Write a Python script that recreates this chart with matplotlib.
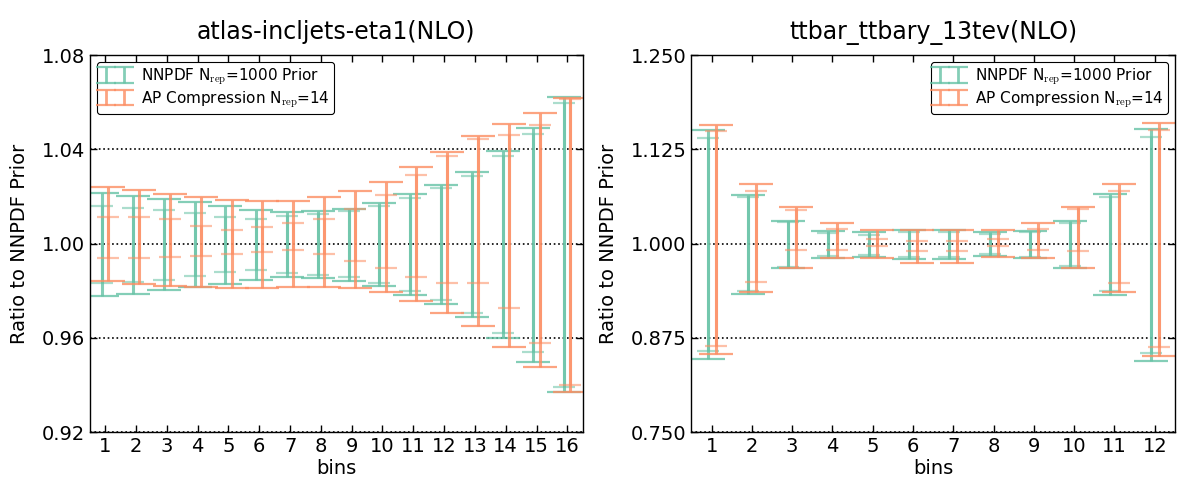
import numpy as np
import matplotlib
matplotlib.use("Agg")
import matplotlib.pyplot as plt

plt.rcParams['font.family'] = ['DejaVu Sans']
plt.rcParams['mathtext.fontset'] = 'cm'
plt.rcParams['mathtext.default'] = 'regular'

GREEN = '#66c2a5'
ORANGE = '#fc8d62'

# ---------------- data: left panel (atlas-incljets-eta1) ----------------
left_bins = list(range(1, 17))
left_prior_outer_hi = [1.0215, 1.0204, 1.0190, 1.0175, 1.0160, 1.0143, 1.0136, 1.0137,
                       1.0149, 1.0171, 1.0209, 1.0250, 1.0303, 1.0392, 1.0492, 1.0621]
left_prior_outer_lo = [0.9778, 0.9788, 0.9803, 0.9816, 0.9831, 0.9848, 0.9859, 0.9854,
                       0.9842, 0.9822, 0.9784, 0.9742, 0.9689, 0.9600, 0.9499, 0.9370]
left_prior_inner_hi = [1.0158, 1.0153, 1.0143, 1.0129, 1.0115, 1.0105, 1.0116, 1.0126,
                       1.0137, 1.0161, 1.0194, 1.0235, 1.0287, 1.0374, 1.0464, 1.0598]
left_prior_inner_lo = [0.9833, 0.9836, 0.9848, 0.9864, 0.9878, 0.9888, 0.9876, 0.9867,
                       0.9857, 0.9833, 0.9799, 0.9761, 0.9704, 0.9619, 0.9540, 0.9393]
left_comp_outer_hi = [1.0241, 1.0226, 1.0209, 1.0198, 1.0185, 1.0180, 1.0183, 1.0198,
                      1.0224, 1.0262, 1.0327, 1.0389, 1.0455, 1.0508, 1.0555, 1.0620]
left_comp_outer_lo = [0.9840, 0.9829, 0.9820, 0.9815, 0.9812, 0.9812, 0.9815, 0.9817,
                      0.9812, 0.9795, 0.9757, 0.9708, 0.9651, 0.9560, 0.9478, 0.9370]
left_comp_inner_hi = [1.0113, 1.0113, 1.0105, 1.0076, 1.0059, 1.0069, 1.0086, 1.0103,
                      1.0149, 1.0207, 1.0290, 1.0374, 1.0444, 1.0461, 1.0504, 1.0614]
left_comp_inner_lo = [0.9939, 0.9939, 0.9944, 0.9949, 0.9955, 0.9963, 0.9973, 0.9956,
                      0.9926, 0.9897, 0.9860, 0.9834, 0.9833, 0.9728, 0.9580, 0.9400]
left_yticks = [0.92, 0.96, 1.00, 1.04, 1.08]
left_ytick_labels = ['0.92', '0.96', '1.00', '1.04', '1.08']

# ---------------- data: right panel (ttbar_ttbary_13tev) ----------------
right_bins = list(range(1, 13))
right_prior_outer_hi = [1.1508, 1.0646, 1.0296, 1.0168, 1.0150, 1.0181,
                        1.0181, 1.0150, 1.0164, 1.0301, 1.0654, 1.1525]
right_prior_outer_lo = [0.8471, 0.9328, 0.9673, 0.9810, 0.9828, 0.9797,
                        0.9797, 0.9832, 0.9805, 0.9678, 0.9324, 0.8448]
right_prior_inner_hi = [1.1397, 1.0614, 1.0283, 1.0146, 1.0119, 1.0155,
                        1.0155, 1.0124, 1.0150, 1.0274, 1.0619, 1.1415]
right_prior_inner_lo = [0.8581, 0.9368, 0.9686, 0.9832, 0.9850, 0.9824,
                        0.9824, 0.9858, 0.9819, 0.9699, 0.9368, 0.8545]
right_comp_outer_hi = [1.1569, 1.0786, 1.0486, 1.0269, 1.0177, 1.0181,
                       1.0181, 1.0177, 1.0274, 1.0486, 1.0786, 1.1601]
right_comp_outer_lo = [0.8537, 0.9359, 0.9673, 0.9814, 0.9814, 0.9748,
                       0.9748, 0.9819, 0.9814, 0.9678, 0.9359, 0.8515]
right_comp_inner_hi = [1.1495, 1.0699, 1.0451, 1.0195, 1.0062, 1.0031,
                       1.0031, 1.0062, 1.0195, 1.0460, 1.0703, 1.1508]
right_comp_inner_lo = [0.8638, 0.9496, 0.9912, 0.9920, 0.9973, 0.9903,
                       0.9898, 0.9973, 0.9920, 0.9903, 0.9479, 0.8630]
right_yticks = [0.750, 0.875, 1.000, 1.125, 1.250]
right_ytick_labels = ['0.750', '0.875', '1.000', '1.125', '1.250']

label_prior = r'NNPDF N$_{\rm rep}$=1000 Prior'
label_comp = r'AP Compression N$_{\rm rep}$=14'

fig = plt.figure(figsize=(11.82, 4.84), dpi=100)
fig.patch.set_facecolor('white')
ax1 = fig.add_axes([0.076, 0.107, 0.417, 0.779])
ax2 = fig.add_axes([0.585, 0.107, 0.409, 0.779])


def band(ax, x, hi, lo, color, capsize, alpha):
    hi = np.asarray(hi)
    lo = np.asarray(lo)
    c = 0.5 * (hi + lo)
    return ax.errorbar(x, c, yerr=[c - lo, hi - c], fmt='none', ecolor=color,
                       elinewidth=2.2, capsize=capsize, capthick=1.6,
                       alpha=alpha)


def proxy(ax, color, label):
    # legend-only errorbar (NaN data -> nothing drawn in the axes)
    return ax.errorbar([np.nan], [np.nan], yerr=[[0.1], [0.1]], fmt='none',
                       ecolor=color, elinewidth=2.0, capsize=7, capthick=1.6,
                       alpha=0.8, label=label)


def panel(ax, bins, p_oh, p_ol, p_ih, p_il, c_oh, c_ol, c_ih, c_il,
          yticks, ylabels, title, loc):
    b = np.asarray(bins, dtype=float)
    band(ax, b - 0.1, p_oh, p_ol, GREEN, 12, 0.8)
    band(ax, b - 0.1, p_ih, p_il, GREEN, 8, 0.55)
    band(ax, b + 0.1, c_oh, c_ol, ORANGE, 12, 0.8)
    band(ax, b + 0.1, c_ih, c_il, ORANGE, 8, 0.55)
    h1 = proxy(ax, GREEN, label_prior)
    h2 = proxy(ax, ORANGE, label_comp)
    ax.set_xlim(b[0] - 0.5, b[-1] + 0.5)
    ax.set_ylim(yticks[0], yticks[-1])
    ax.set_xticks(b)
    ax.set_xticklabels([str(int(v)) for v in bins])
    ax.set_yticks(yticks)
    ax.set_yticklabels(ylabels)
    ax.yaxis.grid(True, linestyle=':', color='black', linewidth=1.2)
    ax.set_axisbelow(True)
    ax.tick_params(direction='in', top=True, right=True, length=5,
                   labelsize=14, width=1)
    for s in ax.spines.values():
        s.set_linewidth(1.0)
        s.set_color('black')
    ax.set_xlabel('bins', fontsize=14, labelpad=2)
    ax.set_ylabel('Ratio to NNPDF Prior', fontsize=14, labelpad=9)
    ax.set_title(title, fontsize=17, pad=12)
    leg = ax.legend(handles=[h1, h2], loc=loc, numpoints=2, fontsize=11,
                    fancybox=True, framealpha=1, edgecolor='black',
                    handlelength=1.8, borderpad=0.28, labelspacing=0.14,
                    handletextpad=0.8, borderaxespad=0.45)
    leg.get_frame().set_linewidth(0.8)


panel(ax1, left_bins, left_prior_outer_hi, left_prior_outer_lo,
      left_prior_inner_hi, left_prior_inner_lo, left_comp_outer_hi,
      left_comp_outer_lo, left_comp_inner_hi, left_comp_inner_lo,
      left_yticks, left_ytick_labels, 'atlas-incljets-eta1(NLO)', 'upper left')
panel(ax2, right_bins, right_prior_outer_hi, right_prior_outer_lo,
      right_prior_inner_hi, right_prior_inner_lo, right_comp_outer_hi,
      right_comp_outer_lo, right_comp_inner_hi, right_comp_inner_lo,
      right_yticks, right_ytick_labels, 'ttbar_ttbary_13tev(NLO)', 'upper right')

fig.savefig('out.png', dpi=100, facecolor='white')
